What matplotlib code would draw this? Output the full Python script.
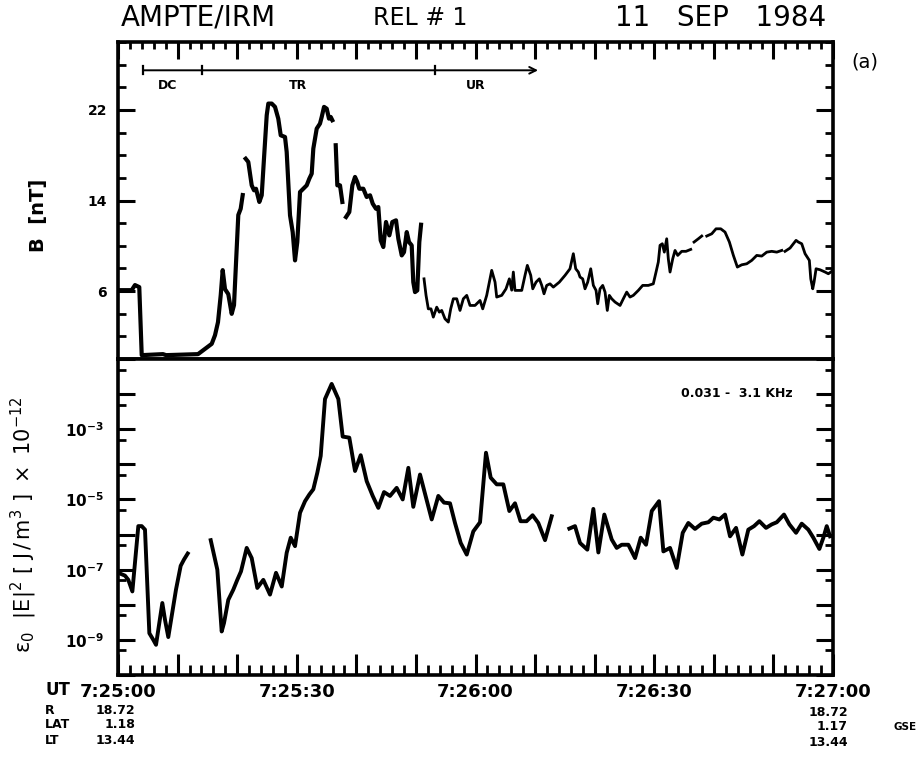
import numpy as np
import matplotlib
matplotlib.use("Agg")
import matplotlib.pyplot as plt
from matplotlib.ticker import MultipleLocator, FixedLocator, NullFormatter, FuncFormatter

nan = np.nan

# ---- magnetic field magnitude, seconds after 07:25:00 UT ----
b_time = [0.34, 2.3, 2.85, 3.57, 3.98, 7.55, 8.06, 13.43, 15.73, 16.28, 16.78, 17.24,
          17.57, 17.96, 18.51, 19.08, 19.47, 19.92, 20.19, 20.59, 20.93, 21.2,
          21.43, 21.87, 22.44, 22.83, 23.16, 23.72, 24.12, 24.50, 24.96, 25.23, 25.80,
          26.35, 26.90, 27.31, 28.03, 28.31, 28.87, 29.32, 29.71, 30.09, 30.55, 31.10,
          31.67, 32.11, 32.51, 32.78, 33.35, 33.90, 34.19, 34.58, 35.03, 35.41, 35.70,
          35.97, 36.3,
          36.54, 36.81, 37.26, 37.65, 38.0,
          38.27, 38.82, 39.33, 39.78, 40.16, 40.50, 41.17, 41.74, 42.30, 42.75, 43.30,
          43.69, 44.09, 44.53, 44.98, 45.54, 46.04, 46.66, 47.05, 47.62, 48.0, 48.46,
          48.84, 49.29, 49.56, 49.85, 50.23, 50.57, 50.86, 51.1,
          51.36, 51.70, 52.08, 52.53, 52.92, 53.49, 53.93, 54.33, 54.88, 55.44, 55.84,
          56.28, 56.85, 57.40, 57.96, 58.53, 59.08, 59.92, 60.76, 61.21, 61.88, 62.72,
          63.28, 63.56, 64.40, 65.12, 65.68, 66.08, 66.35, 66.63, 67.76, 68.31, 68.70,
          69.27, 69.61, 70.16, 70.71, 71.12, 71.50, 71.95, 72.51, 73.06, 74.07, 75.03,
          75.86, 76.42, 76.82, 77.26, 77.54, 77.99, 78.38, 78.83, 79.34, 79.78, 80.23,
          80.51, 80.90, 81.35, 81.74, 82.12, 82.46, 82.86, 83.42, 84.26, 84.81, 85.38,
          85.93, 86.49, 87.33, 88.06, 89.00, 89.84, 90.30, 90.68, 90.97, 91.35, 91.69,
          92.09, 92.36, 92.65, 93.10, 93.49, 93.94, 94.61, 95.33, 96.12, 96.4,
          96.68, 97.40, 97.97, 98.4,
          98.81, 99.65, 100.37, 101.16, 101.88, 102.61, 103.28, 103.95, 104.68, 105.52,
          106.36, 107.20, 108.04, 108.88, 109.72, 110.56, 111.40, 111.7,
          111.95, 112.79, 113.35, 113.80, 114.18, 114.75, 115.31, 116.03, 116.27, 116.60,
          116.82, 117.16, 117.83, 118.67, 119.22, 119.79]
b_field = [6.08, 6.08, 6.53, 6.35, 0.34, 0.43, 0.34, 0.43, 1.34, 2.1, 3.25, 5.64,
           7.85, 6.17, 5.73, 3.99, 4.76, 9.74, 12.72, 13.27, 14.48, nan,
           17.69, 17.40, 15.34, 14.90, 15.04, 13.87, 14.46, 17.69, 21.53, 22.56, 22.56,
           22.27, 21.23, 19.76, 19.61, 18.29, 12.69, 11.21, 8.71, 10.33, 14.75, 15.04,
           15.34, 15.93, 16.37, 18.58, 20.35, 20.79, 21.38, 22.27, 22.11, 21.23, 21.38,
           21.09, nan,
           18.88, 15.34, 15.34, 13.87, nan,
           12.54, 12.98, 15.34, 16.08, 15.63, 15.04, 15.04, 14.31, 14.46, 13.72, 13.27,
           13.42, 10.48, 9.89, 12.10, 10.92, 12.10, 12.25, 10.62, 9.15, 9.44, 11.21,
           10.33, 10.04, 6.79, 5.91, 6.06, 10.33, 11.86, nan,
           7.08, 5.62, 4.43, 4.43, 3.70, 4.58, 4.14, 4.29, 3.55, 3.26, 4.43,
           5.32, 5.32, 4.29, 5.32, 5.62, 4.73, 4.73, 5.17, 4.43, 5.62, 7.83,
           6.79, 5.47, 5.62, 6.20, 7.08, 6.08, 7.68, 6.06, 6.06, 7.39, 8.27,
           7.39, 6.20, 6.79, 7.08, 6.50, 5.76, 6.50, 6.64, 6.35, 6.79, 7.39,
           7.97, 9.30, 7.97, 7.68, 7.24, 7.08, 6.20, 6.79, 7.97, 6.50, 6.06,
           4.88, 6.20, 6.50, 5.91, 4.29, 5.62, 5.32, 5.03, 4.73, 5.32, 5.91,
           5.47, 5.62, 6.06, 6.50, 6.50, 6.64, 7.68, 8.56, 10.04, 10.18, 9.44,
           10.62, 8.85, 7.68, 8.85, 9.59, 9.15, 9.51, 9.51, 9.68, nan,
           10.33, 10.62, 10.86, nan,
           10.86, 11.06, 11.50, 11.50, 11.21, 10.33, 9.15, 8.12, 8.32, 8.41,
           8.71, 9.15, 9.09, 9.44, 9.51, 9.44, 9.59, nan,
           9.51, 9.80, 10.18, 10.48, 10.33, 10.18, 9.30, 8.71, 7.08, 6.20,
           6.79, 7.97, 7.88, 7.68, 7.53, 7.74]

# ---- electric field energy density, log10 of eps0|E|^2 in 1e-12 J/m^3 ----
e_time = [0.34, 1.17, 1.73, 2.41, 2.85, 3.41, 3.98, 4.53, 5.26, 5.93, 6.38, 6.93,
          7.44, 7.89, 8.44, 9.01, 9.73, 10.52, 11.08, 11.70, 13.5,
          15.56, 16.28, 16.67, 17.40, 17.79, 18.51, 19.35, 20.02, 20.64, 21.60, 22.44,
          23.38, 24.39, 25.51, 26.52, 27.48, 28.31, 28.99, 29.71, 30.55, 31.39, 32.11,
          32.78, 33.45, 34.02, 34.74, 35.86, 36.98, 37.71, 38.82, 39.78, 40.73, 41.74,
          42.75, 43.69, 44.65, 45.65, 46.77, 47.78, 48.73, 49.56, 50.69, 51.70, 52.65,
          53.76, 54.72, 55.72, 56.56, 57.52, 58.53, 59.63, 60.76, 61.76, 62.55, 63.56,
          64.67, 65.68, 66.63, 67.56, 68.57, 69.58, 70.54, 71.67, 72.79, 74.0,
          75.75, 76.70, 77.54, 78.77, 79.78, 80.62, 81.62, 82.86, 83.70, 84.54, 85.65,
          86.78, 87.73, 88.62, 89.58, 90.80, 91.53, 92.65, 93.77, 94.78, 95.72, 96.84,
          97.97, 99.08, 99.92, 100.93, 101.88, 102.72, 103.73, 104.79, 105.79, 106.75,
          107.64, 108.76, 109.72, 110.56, 111.78, 112.68, 113.80, 114.75, 115.86,
          116.70, 117.71, 118.38, 118.95, 119.50]
e_log = [-7.11, -7.17, -7.29, -7.62, -6.81, -5.76, -5.76, -5.86, -8.81, -9.0, -9.14,
         -8.52, -7.95, -8.43, -8.92, -8.33, -7.57, -6.89, -6.71, -6.54, nan,
         -6.16, -6.71, -7.0, -8.76, -8.52, -7.86, -7.57, -7.29, -7.05, -6.38, -6.67,
         -7.52, -7.29, -7.71, -7.09, -7.48, -6.52, -6.09, -6.33, -5.38, -5.05, -4.86,
         -4.71, -4.24, -3.76, -2.14, -1.71, -2.14, -3.21, -3.24, -4.19, -3.74, -4.48,
         -4.90, -5.24, -4.79, -4.90, -4.67, -5.0, -4.10, -5.21, -4.29, -4.95, -5.57,
         -4.90, -5.09, -5.11, -5.67, -6.24, -6.57, -5.91, -5.65, -3.67, -4.38, -4.57,
         -4.57, -5.33, -5.11, -5.62, -5.62, -5.45, -5.67, -6.16, -5.48, nan,
         -5.83, -5.76, -6.24, -6.43, -5.27, -6.51, -5.43, -6.14, -6.38, -6.29, -6.29,
         -6.67, -6.09, -6.29, -5.33, -5.05, -6.48, -6.38, -6.95, -5.95, -5.67, -5.84,
         -5.69, -5.65, -5.52, -5.57, -5.43, -6.05, -5.81, -6.57, -5.86, -5.76,
         -5.62, -5.81, -5.71, -5.65, -5.43, -5.71, -5.95, -5.69, -5.86,
         -6.09, -6.41, -6.09, -5.76, -6.05]

# boundary-layer phases marked above the field trace (seconds after 07:25:00)
phase_edges = [4.2, 14.1, 53.2]
phase_end = 70.5
phase_names = ["DC", "TR", "UR"]
phase_label_t = [8.3, 30.2, 60.0]

ut_ticks = [0, 30, 60, 90, 120]
ut_labels = ["7:25:00", "7:25:30", "7:26:00", "7:26:30", "7:27:00"]
b_ticks = [6, 14, 22]
e_ticks = [-9, -7, -5, -3]

W, H = 922, 759
fig = plt.figure(figsize=(W / 100, H / 100), dpi=100)
plt.rcParams['font.family'] = ['DejaVu Sans']

L, R = 118 / W, 833 / W
ax1 = fig.add_axes([L, 1 - 359 / H, R - L, 317 / H])
ax2 = fig.add_axes([L, 1 - 675 / H, R - L, 316 / H])

for ax in (ax1, ax2):
    for s in ax.spines.values():
        s.set_linewidth(2.6)
    ax.set_xlim(0, 120)
    ax.xaxis.set_major_locator(MultipleLocator(10))
    ax.xaxis.set_minor_locator(MultipleLocator(2))

# ---------- upper panel: |B| ----------
bt = np.array(b_time)
bb = np.array(b_field)
early = bt <= 51.2
ax1.plot(bt[early], bb[early], color='black', lw=3.0, solid_joinstyle='round')
ax1.plot(bt[~early], bb[~early], color='black', lw=2.0, solid_joinstyle='round')
ax1.set_ylim(0, 28)
ax1.yaxis.set_major_locator(FixedLocator(b_ticks))
ax1.yaxis.set_minor_locator(MultipleLocator(2))
ax1.tick_params(axis='x', which='both', direction='in', top=True, bottom=False,
                labelbottom=False, labeltop=False)
ax1.tick_params(axis='x', which='major', length=12, width=2.2)
ax1.tick_params(axis='x', which='minor', length=5, width=2.0)
ax1.tick_params(axis='y', which='both', direction='in', left=True, right=True)
ax1.tick_params(axis='y', which='major', length=12, width=2.2, pad=8,
                labelsize=10)
ax1.tick_params(axis='y', which='minor', length=6, width=2.0)
for lab in ax1.get_yticklabels():
    lab.set_fontweight('bold')
ax1.set_ylabel("B  [nT]", fontsize=14, fontweight='bold')
ax1.yaxis.set_label_coords(-0.098, 0.454)

# phase bar
bar_y = 25.5
ax1.annotate("", xy=(phase_end, bar_y), xytext=(phase_edges[0], bar_y),
             arrowprops=dict(arrowstyle='->', lw=1.4, color='black',
                             shrinkA=0, shrinkB=0, mutation_scale=12))
for t in phase_edges:
    ax1.plot([t, t], [bar_y - 0.35, bar_y + 0.35], color='black', lw=1.6)
for name, t in zip(phase_names, phase_label_t):
    ax1.text(t, 24.2, name, ha='center', va='center', fontsize=9,
             fontweight='bold', family='DejaVu Sans Condensed')
fig.text(865 / W, 1 - 62 / H, "(a)", fontsize=14, ha='center', va='center')

# ---------- lower panel: electric energy density ----------
ev = 10.0 ** np.array(e_log)
ax2.plot(e_time, ev, color='black', lw=2.8, solid_joinstyle='round')
ax2.set_yscale('log')
ax2.set_ylim(1e-10, 1e-1)
ax2.yaxis.set_major_locator(FixedLocator([10.0 ** k for k in range(-10, 0)]))
ax2.yaxis.set_minor_locator(FixedLocator([5 * 10.0 ** k for k in range(-11, -1)]))
ax2.yaxis.set_minor_formatter(NullFormatter())
ax2.yaxis.set_major_formatter(FuncFormatter(
    lambda v, p: (r"$\mathbf{10^{%d}}$" % round(np.log10(v)))
    if round(np.log10(v)) in e_ticks else ""))
ax2.tick_params(axis='y', which='both', direction='in', left=True, right=True)
ax2.tick_params(axis='y', which='major', length=12, width=2.2, pad=10,
                labelsize=11)
ax2.tick_params(axis='y', which='minor', length=6, width=2.0)
ax2.tick_params(axis='x', which='both', direction='in', bottom=True, top=False)
ax2.tick_params(axis='x', which='major', length=15, width=2.2, pad=6,
                labelsize=13)
ax2.tick_params(axis='x', which='minor', length=7, width=2.0)
ax2.xaxis.set_major_formatter(FuncFormatter(
    lambda v, p: ut_labels[ut_ticks.index(int(round(v)))]
    if int(round(v)) in ut_ticks else ""))
for lab in ax2.get_xticklabels():
    lab.set_fontweight('bold')
ax2.set_ylabel(r"$\mathrm{\varepsilon_0\ \ |E|^2\ [\ J\,/\,m^3\ ]\ \times\ 10^{-12}}$",
               fontsize=15)
ax2.yaxis.set_label_coords(-0.11, 0.475)
ax2.text(0.866, 0.892, "0.031 -  3.1 KHz", transform=ax2.transAxes,
         ha='center', va='center', fontsize=9, fontweight='bold',
         family='DejaVu Sans Condensed')

# ---------- header ----------
fig.text(198 / W, 1 - 18 / H, "AMPTE/IRM", ha='center', va='center', fontsize=20,
         family='DejaVu Sans Condensed')
fig.text(420 / W, 1 - 18 / H, "REL # 1", ha='center', va='center', fontsize=17,
         family='DejaVu Sans Condensed')
fig.text(721 / W, 1 - 18 / H, "11   SEP   1984", ha='center', va='center',
         fontsize=20, family='DejaVu Sans Condensed')

# ---------- orbit information ----------
bold = dict(fontweight='bold', va='center')
fig.text(45 / W, 1 - 690 / H, "UT", fontsize=12, ha='left', **bold)
fig.text(45 / W, 1 - 710 / H, "R", fontsize=9, ha='left', **bold)
fig.text(45 / W, 1 - 725 / H, "LAT", fontsize=9, ha='left', **bold)
fig.text(45 / W, 1 - 741 / H, "LT", fontsize=9, ha='left', **bold)
fig.text(135 / W, 1 - 710 / H, "18.72", fontsize=9, ha='right', **bold)
fig.text(135 / W, 1 - 725 / H, "1.18", fontsize=9, ha='right', **bold)
fig.text(135 / W, 1 - 741 / H, "13.44", fontsize=9, ha='right', **bold)
fig.text(848 / W, 1 - 712 / H, "18.72", fontsize=9, ha='right', **bold)
fig.text(848 / W, 1 - 727 / H, "1.17", fontsize=9, ha='right', **bold)
fig.text(848 / W, 1 - 742 / H, "13.44", fontsize=9, ha='right', **bold)
fig.text(905 / W, 1 - 727 / H, "GSE", fontsize=7.5, ha='center', **bold)

fig.savefig("out.png", dpi=100)
